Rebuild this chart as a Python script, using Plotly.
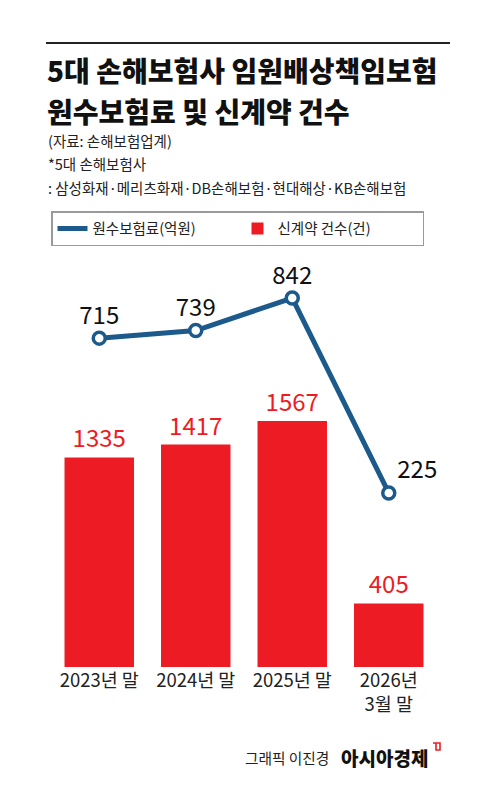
import plotly.graph_objects as go

categories = ["2023년 말", "2024년 말", "2025년 말", "2026년<br>3월 말"]
premium = [715, 739, 842, 225]          # 원수보험료(억원)
contracts = [1335, 1417, 1567, 405]     # 신계약 건수(건)
premium_pos = ["top center", "top center", "top center", "top right"]

RED = "#ED1C24"
BLUE = "#1C5A8C"
FONT = "Noto Sans CJK KR"

OFF = 8  # page body margin
W, H = 500 - OFF, 792 - OFF
L, R, T, B = 43, 63, 242, 125
PW, PH = W - L - R, H - T - B

def px(x):
    return (x - OFF - L) / PW

def py(y):
    return (H - B - (y - OFF)) / PH

fig = go.Figure()
fig.add_trace(go.Bar(
    x=categories, y=contracts, name="신계약 건수(건)",
    marker=dict(color=RED, line=dict(width=0)), width=0.72,
    text=[f"{v}" for v in contracts], textposition="outside",
    textfont=dict(color=RED, size=24, family=FONT),
    cliponaxis=False, yaxis="y", legendrank=2,
))
fig.add_trace(go.Scatter(
    x=categories, y=premium, name="원수보험료(억원)", mode="lines",
    line=dict(color=BLUE, width=5), yaxis="y2", legendrank=1,
))
fig.add_trace(go.Scatter(
    x=categories, y=premium, mode="markers+text", showlegend=False,
    marker=dict(size=12, color="white", line=dict(color=BLUE, width=3.5)),
    text=[f"{v}" for v in premium], textposition=premium_pos,
    textfont=dict(color="#111", size=24, family=FONT),
    yaxis="y2", cliponaxis=False,
))

fig.update_layout(
    width=W, height=H, margin=dict(l=L, r=R, t=T, b=B),
    paper_bgcolor="white", plot_bgcolor="white",
    font=dict(family=FONT, color="#222"),
    xaxis=dict(showgrid=False, zeroline=False, showline=False, ticks="",
               tickfont=dict(size=18.5, color="#222", family=FONT),
               range=[-0.5, 3.5]),
    yaxis=dict(range=[0, 2656], visible=False),
    yaxis2=dict(range=[-326, 994], overlaying="y", visible=False),
    showlegend=True,
    legend=dict(orientation="h", x=px(51), y=py(211), xanchor="left", yanchor="top",
                bordercolor="#9a9a9a", borderwidth=1.5, bgcolor="white",
                font=dict(size=14.5, family=FONT, color="#222"),
                entrywidth=140, entrywidthmode="pixels",
                traceorder="normal", itemclick=False),
)

fig.add_shape(type="line", xref="paper", yref="paper",
              x0=px(46), x1=px(450), y0=py(43), y1=py(43),
              line=dict(color="#222", width=2.2))

ann = []
ann.append(dict(text="5대 손해보험사 임원배상책임보험", x=px(45), y=py(69.5),
                font=dict(size=28, color="#111", family=FONT, weight=900)))
ann.append(dict(text="원수보험료 및 신계약 건수", x=px(45), y=py(110.5),
                font=dict(size=28, color="#111", family=FONT, weight=900)))
ann.append(dict(text="(자료: 손해보험업계)", x=px(46), y=py(140),
                font=dict(size=14.5, color="#222", family=FONT)))
ann.append(dict(text="*5대 손해보험사", x=px(46), y=py(163),
                font=dict(size=14.5, color="#222", family=FONT)))
ann.append(dict(text=": 삼성화재·메리츠화재·DB손해보험·현대해상·KB손해보험", x=px(46), y=py(187),
                font=dict(size=14.5, color="#222", family=FONT)))
for a in ann:
    a.update(xref="paper", yref="paper", xanchor="left", yanchor="middle", showarrow=False)
    fig.add_annotation(**a)

fig.add_annotation(text="그래픽 이진경", xref="paper", yref="paper", x=px(331), y=py(757),
                   xanchor="right", yanchor="middle", showarrow=False,
                   font=dict(size=14.7, color="#222", family=FONT))
fig.add_annotation(text="아시아경제", xref="paper", yref="paper", x=px(339), y=py(757),
                   xanchor="left", yanchor="middle", showarrow=False,
                   font=dict(size=19, color="#111", family=FONT, weight=900))
fig.add_shape(type="path", xref="paper", yref="paper",
              path=f"M{px(433)},{py(743)} L{px(440)},{py(743)} L{px(440)},{py(750)} L{px(436)},{py(750)} L{px(436)},{py(743)}",
              line=dict(color=RED, width=1.6))

fig.write_html("out.html")
